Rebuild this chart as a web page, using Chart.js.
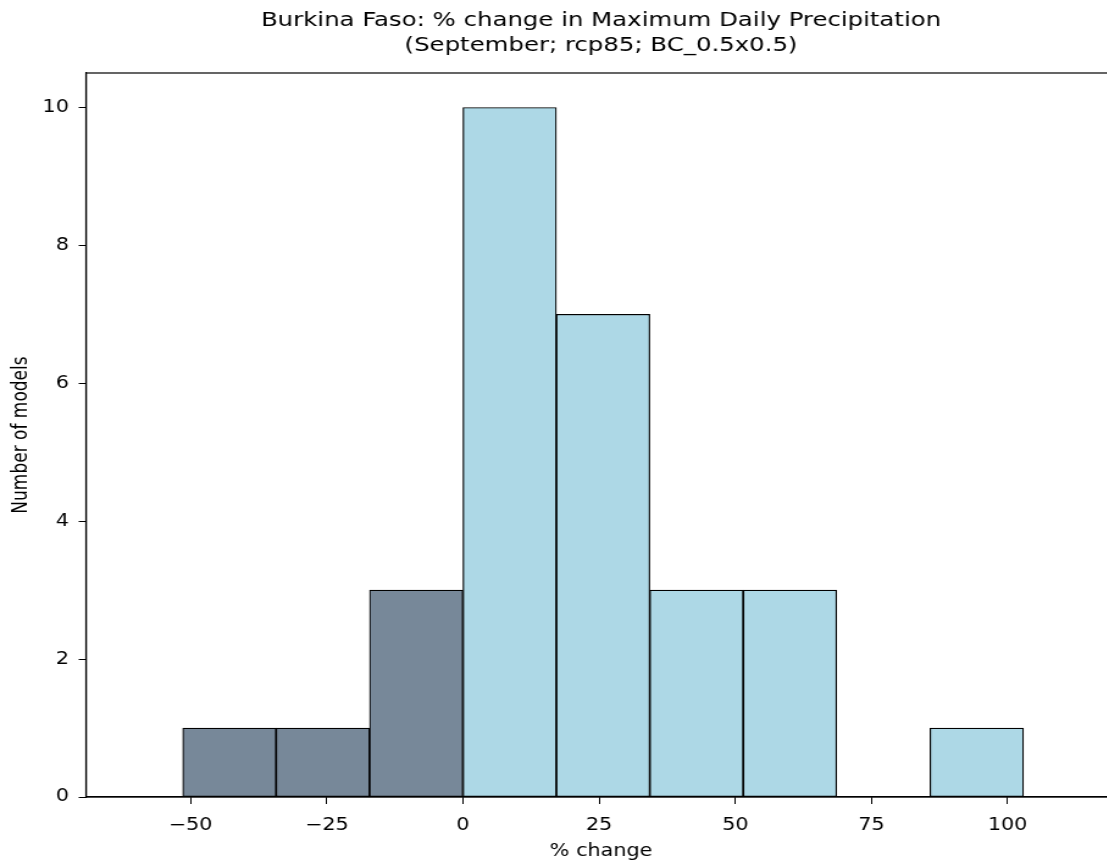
<!DOCTYPE html>
<html>
<head>
<meta charset="utf-8">
<script src="https://cdn.jsdelivr.net/npm/chart.js@4.4.1/dist/chart.umd.min.js"></script>
<style>
  html, body { margin: 0; padding: 0; background: #fff; overflow: hidden; }
  #wrap { width: 1107px; height: 867px; overflow: hidden; }
  /* the figure is stretched sideways, so the canvas is drawn narrow and widened here */
  #stretch { width: 920px; height: 867px; transform: scaleX(1.22); transform-origin: 0 0; }
  #chart { display: block; }
</style>
</head>
<body>
<div id="wrap"><div id="stretch"><canvas id="chart" width="920" height="867"></canvas></div></div>
<script>
// histogram bins (% change) and number of models in each
const binEdges = [-51.45, -34.3, -17.15, 0, 17.15, 34.3, 51.45, 68.6, 85.75, 102.9];
const modelCounts = [1, 1, 3, 10, 7, 3, 3, 0, 1];
const xTicks = [-50, -25, 0, 25, 50, 75, 100];
const yTicks = [0, 2, 4, 6, 8, 10];

const titleLines = ['Burkina Faso: % change in Maximum Daily Precipitation', '(September; rcp85; BC_0.5x0.5)'];

const binCenters = modelCounts.map((c, i) => (binEdges[i] + binEdges[i + 1]) / 2);
const barColors = binCenters.map(c => c < 0 ? '#778899' : '#add8e6');

Chart.defaults.font.family = '"DejaVu Sans", sans-serif';
Chart.defaults.color = '#000';

// box around the plot area (matplotlib style spines)
const frame = {
    id: 'frame',
    afterDraw(chart) {
        const a = chart.chartArea;
        const ctx = chart.ctx;
        ctx.save();
        ctx.strokeStyle = '#000';
        ctx.lineWidth = 1.2;
        ctx.strokeRect(a.left, a.top, a.right - a.left, a.bottom - a.top);
        ctx.restore();
    }
};

const minus = v => String(v).replace('-', '\u2212');

let ctx = document.getElementById('chart').getContext('2d');

let histChart = new Chart(ctx, {
    type: 'bar',
    data: {
        datasets: [{
            data: binCenters.map((x, i) => ({x: x, y: modelCounts[i] || null})),
            backgroundColor: barColors,
            borderColor: '#000',
            borderWidth: 1.2,
            borderSkipped: false,
            barPercentage: 1,
            categoryPercentage: 1
        }]
    },
    options: {
        responsive: false,
        animation: false,
        devicePixelRatio: 1,
        layout: {padding: {left: 0, right: 5.2, top: 0, bottom: 0}},
        plugins: {
            legend: {display: false},
            tooltip: {enabled: false},
            title: {
                display: true,
                fullSize: false,
                text: titleLines,
                color: '#000',
                font: {size: 20, weight: 'normal', lineHeight: 1.25},
                padding: {top: 8, bottom: 15}
            }
        },
        scales: {
            x: {
                type: 'linear',
                offset: false,
                min: -69.2,
                max: 119.9,
                afterFit: s => { s.height = 70; },
                afterBuildTicks: s => { s.ticks = xTicks.map(v => ({value: v})); },
                border: {display: true, color: '#000', width: 1.2},
                grid: {display: true, offset: false, drawOnChartArea: false, drawTicks: true, tickLength: 7, color: '#000'},
                ticks: {font: {size: 17}, padding: 11, maxRotation: 0, callback: v => minus(v)},
                title: {display: true, text: '% change', font: {size: 17, lineHeight: 1.2}, padding: {top: 0, bottom: 5}}
            },
            y: {
                min: 0,
                max: 10.5,
                afterFit: s => { s.width = 70.5; },
                afterBuildTicks: s => { s.ticks = yTicks.map(v => ({value: v})); },
                border: {display: true, color: '#000', width: 1.2},
                grid: {display: true, drawOnChartArea: false, drawTicks: true, tickLength: 6, color: '#000'},
                ticks: {font: {size: 17}, padding: 8, callback: v => minus(v)},
                title: {display: true, text: 'Number of models', font: {size: 17, lineHeight: 1.2}, padding: {top: 7, bottom: 0}}
            }
        }
    },
    plugins: [frame]
});
</script>
</body>
</html>
